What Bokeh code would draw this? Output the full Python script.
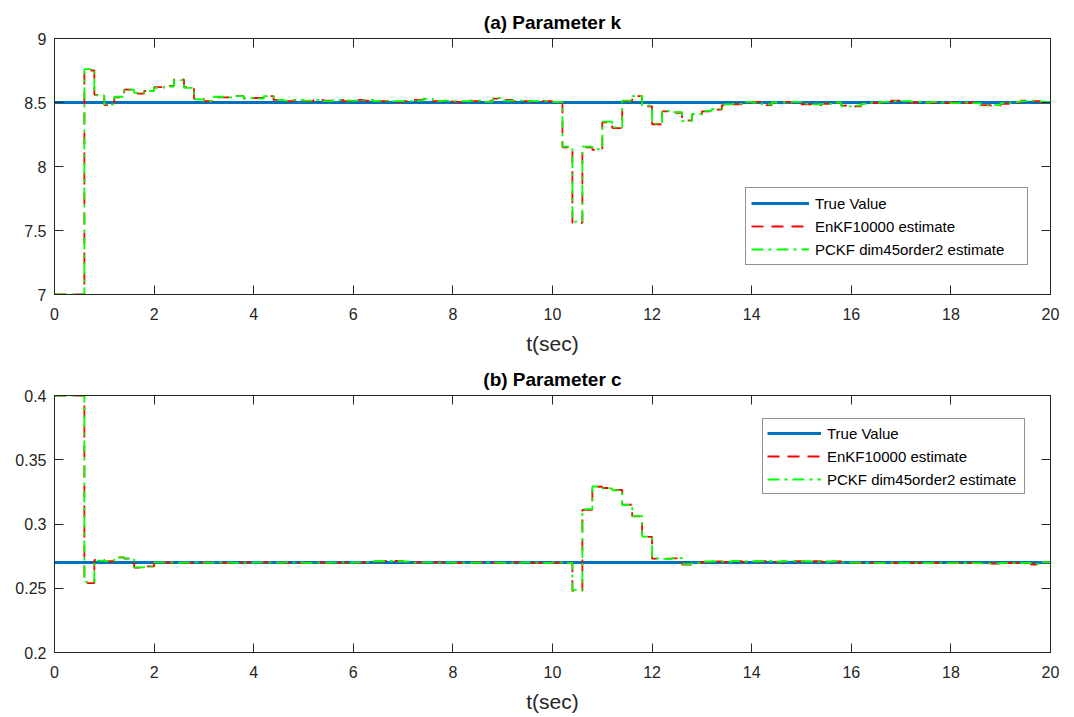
from bokeh.plotting import figure
from bokeh.models import (LinearAxis, FixedTicker, CustomJSTickFormatter, Legend,
                          LegendItem, Range1d)
from bokeh.layouts import column
from bokeh.embed import file_html
from bokeh.resources import INLINE

# time grid of the filter updates (0.2 s steps)
t_edges = [round(0.2 * i, 1) for i in range(101)]
x_ticks = [0, 2, 4, 6, 8, 10, 12, 14, 16, 18, 20]
k_ticks = [7, 7.5, 8, 8.5, 9]
c_ticks = [0.2, 0.25, 0.3, 0.35, 0.4]

k_true = 8.5
c_true = 0.27

k_enkf = [7.00, 7.00, 7.00, 8.75, 8.56, 8.48, 8.54, 8.60, 8.57, 8.59,
          8.62, 8.63, 8.68, 8.62, 8.53, 8.51, 8.54, 8.54, 8.55, 8.53,
          8.535, 8.55, 8.52, 8.51, 8.52, 8.51, 8.52, 8.515, 8.52, 8.51,
          8.52, 8.515, 8.51, 8.51, 8.505, 8.51, 8.52, 8.525, 8.51, 8.51,
          8.505, 8.515, 8.51, 8.51, 8.53, 8.52, 8.51, 8.51, 8.505, 8.51,
          8.50, 8.15, 7.56, 8.15, 8.13, 8.345, 8.30, 8.51, 8.55, 8.47,
          8.33, 8.43, 8.42, 8.36, 8.405, 8.43, 8.445, 8.48, 8.485, 8.50,
          8.505, 8.48, 8.495, 8.505, 8.50, 8.485, 8.48, 8.49, 8.495, 8.475,
          8.47, 8.49, 8.495, 8.50, 8.515, 8.505, 8.50, 8.495, 8.50, 8.495,
          8.50, 8.495, 8.50, 8.48, 8.475, 8.49, 8.50, 8.515, 8.51, 8.50]

k_pckf = [7.00, 7.00, 7.00, 8.76, 8.555, 8.485, 8.545, 8.60, 8.575, 8.59,
          8.615, 8.625, 8.675, 8.615, 8.525, 8.51, 8.545, 8.54, 8.55, 8.535,
          8.53, 8.55, 8.52, 8.515, 8.52, 8.515, 8.52, 8.51, 8.52, 8.515,
          8.515, 8.52, 8.51, 8.515, 8.51, 8.51, 8.515, 8.53, 8.51, 8.515,
          8.51, 8.51, 8.515, 8.505, 8.535, 8.515, 8.515, 8.51, 8.51, 8.51,
          8.505, 8.155, 7.57, 8.155, 8.135, 8.35, 8.305, 8.515, 8.55, 8.475,
          8.335, 8.435, 8.425, 8.355, 8.41, 8.435, 8.45, 8.485, 8.49, 8.505,
          8.50, 8.485, 8.50, 8.50, 8.505, 8.49, 8.485, 8.49, 8.50, 8.47,
          8.475, 8.49, 8.50, 8.505, 8.51, 8.51, 8.505, 8.50, 8.505, 8.50,
          8.495, 8.50, 8.495, 8.475, 8.48, 8.495, 8.505, 8.51, 8.515, 8.505]

c_enkf = [0.40, 0.40, 0.40, 0.254, 0.272, 0.271, 0.274, 0.273, 0.266, 0.267,
          0.2705, 0.270, 0.2702, 0.2698, 0.270, 0.2702, 0.270, 0.2698, 0.270, 0.2702,
          0.270, 0.2704, 0.2702, 0.270, 0.2698, 0.270, 0.2702, 0.2698, 0.270, 0.2702,
          0.270, 0.2702, 0.2708, 0.2712, 0.2712, 0.2706, 0.2702, 0.270, 0.2702, 0.270,
          0.2698, 0.270, 0.2702, 0.270, 0.2698, 0.270, 0.2702, 0.270, 0.2698, 0.270,
          0.270, 0.270, 0.248, 0.311, 0.329, 0.328, 0.3265, 0.315, 0.306, 0.290,
          0.273, 0.273, 0.2732, 0.2685, 0.2695, 0.2705, 0.2708, 0.2706, 0.271, 0.2705,
          0.2708, 0.271, 0.2706, 0.2708, 0.271, 0.2708, 0.271, 0.2706, 0.2708, 0.270,
          0.2698, 0.2698, 0.270, 0.2698, 0.2696, 0.2698, 0.270, 0.2698, 0.2696, 0.2698,
          0.2698, 0.2696, 0.2698, 0.2696, 0.2692, 0.2696, 0.2698, 0.2696, 0.2685, 0.2702]

c_pckf = [0.40, 0.40, 0.40, 0.255, 0.2715, 0.2712, 0.2738, 0.2732, 0.2662, 0.2668,
          0.2702, 0.2702, 0.270, 0.270, 0.2702, 0.270, 0.2702, 0.270, 0.2698, 0.270,
          0.2702, 0.2702, 0.270, 0.2702, 0.270, 0.2698, 0.270, 0.270, 0.2702, 0.270,
          0.2702, 0.2704, 0.271, 0.2712, 0.271, 0.2708, 0.270, 0.2702, 0.270, 0.2702,
          0.270, 0.2698, 0.270, 0.2702, 0.270, 0.2698, 0.270, 0.2702, 0.270, 0.2698,
          0.2702, 0.2698, 0.2485, 0.3115, 0.3292, 0.3278, 0.3262, 0.3148, 0.3062, 0.2902,
          0.2732, 0.2728, 0.2734, 0.2688, 0.2698, 0.2708, 0.271, 0.2708, 0.2712, 0.2708,
          0.271, 0.2712, 0.2708, 0.271, 0.2712, 0.271, 0.2708, 0.2708, 0.271, 0.2702,
          0.270, 0.2698, 0.2698, 0.2696, 0.2698, 0.2696, 0.2698, 0.2696, 0.2698, 0.2696,
          0.2696, 0.2698, 0.2696, 0.2694, 0.2694, 0.2698, 0.2696, 0.2698, 0.2688, 0.2704]

FONT = "Liberation Sans"
AX = "#262626"
BLUE = "#0072BD"

label_fmt = CustomJSTickFormatter(code="return Number(tick.toFixed(2)).toString();")
blank_fmt = CustomJSTickFormatter(code="return '';")


def panel(title, y_lo, y_hi, y_ticks, truth, enkf, pckf, height, top_b, bottom_b,
          leg_loc, leg_pad, leg_spacing, leg_glyph_w, leg_label_w):
    p = figure(width=1074, height=height, x_range=Range1d(0, 20), y_range=Range1d(y_lo, y_hi),
               x_axis_type=None, y_axis_type=None, output_backend="svg",
               toolbar_location=None, min_border_left=54, min_border_right=24,
               min_border_top=top_b, min_border_bottom=bottom_b,
               outline_line_color=AX, outline_line_width=1, background_fill_color="white")
    p.title.text = title
    p.title.align = "center"
    p.title.text_font = FONT
    p.title.text_font_size = "19px"
    p.title.text_font_style = "bold"
    p.title.text_color = "#000000"
    p.title.standoff = 11

    def style(ax, labels=True):
        ax.axis_line_color = AX
        ax.major_tick_line_color = AX
        ax.major_tick_in = 9
        ax.major_tick_out = 0
        ax.minor_tick_line_color = None
        ax.major_label_text_font = FONT
        ax.major_label_text_font_size = "16px"
        ax.major_label_text_color = AX
        if not labels:
            ax.major_label_standoff = 0
        return ax

    xb = style(LinearAxis(ticker=FixedTicker(ticks=x_ticks), formatter=label_fmt,
                          axis_label="t(sec)"))
    xb.major_label_standoff = 13
    xb.axis_label_standoff = 9
    xb.axis_label_text_font = FONT
    xb.axis_label_text_font_size = "21px"
    xb.axis_label_text_font_style = "normal"
    xb.axis_label_text_color = AX
    p.add_layout(xb, "below")

    yl = style(LinearAxis(ticker=FixedTicker(ticks=y_ticks), formatter=label_fmt))
    yl.major_label_standoff = 8
    p.add_layout(yl, "left")

    p.add_layout(style(LinearAxis(ticker=FixedTicker(ticks=x_ticks), formatter=blank_fmt), False), "above")
    p.add_layout(style(LinearAxis(ticker=FixedTicker(ticks=y_ticks), formatter=blank_fmt), False), "right")

    r_true = p.line([t_edges[0], t_edges[-1]], [truth, truth], line_color=BLUE, line_width=3)
    r_enkf = p.step(t_edges, enkf + [enkf[-1]], mode="after", line_color="#FF0000",
                    line_width=1.8, line_dash="12 8")
    r_pckf = p.step(t_edges, pckf + [pckf[-1]], mode="after", line_color="#00FF00",
                    line_width=1.8, line_dash="12 5 3 5")

    legend = Legend(items=[LegendItem(label="True Value", renderers=[r_true]),
                           LegendItem(label="EnKF10000 estimate", renderers=[r_enkf]),
                           LegendItem(label="PCKF dim45order2 estimate", renderers=[r_pckf])],
                    location=leg_loc, padding=leg_pad, spacing=leg_spacing, margin=0,
                    glyph_width=leg_glyph_w, glyph_height=20, label_height=20,
                    label_width=leg_label_w, label_standoff=6,
                    label_text_font=FONT, label_text_font_size="15px",
                    label_text_color="#000000", border_line_color=AX, border_line_width=1,
                    background_fill_color="white", background_fill_alpha=1.0)
    p.add_layout(legend)
    return p


top = panel("(a) Parameter k", 7, 9, k_ticks, k_true, k_enkf, k_pckf,
            358, 38, 64, (691, 29), 5, 3, 58, 207)
bottom = panel("(b) Parameter c", 0.2, 0.4, c_ticks, c_true, c_enkf, c_pckf,
               359, 37, 65, (708, 158), 4, 3, 54, 193)

layout = column(top, bottom, spacing=0)
open("out.html", "w").write(file_html(layout, INLINE))
